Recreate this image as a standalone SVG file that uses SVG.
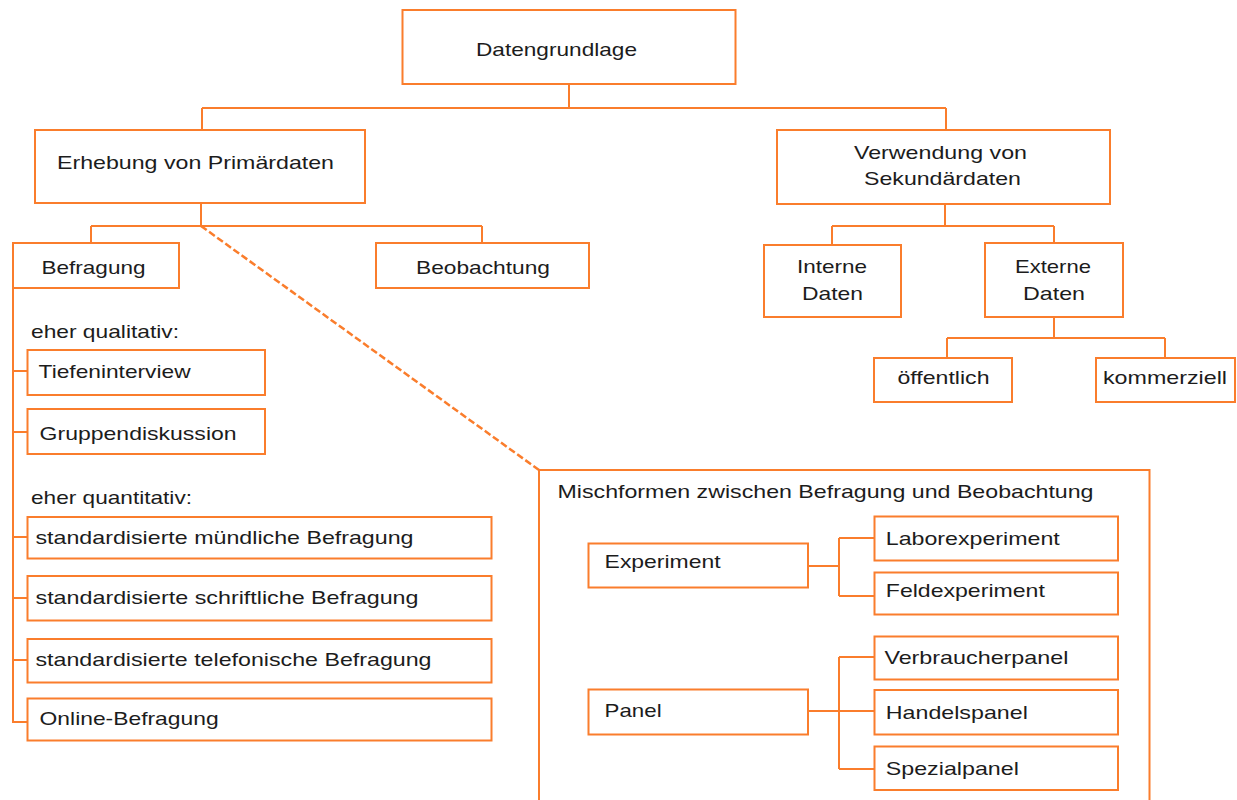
<svg xmlns="http://www.w3.org/2000/svg" width="1237" height="800" viewBox="0 0 1237 800">
<style>
.b{fill:#fff;stroke:#fa7d2c;stroke-width:2}
.f{fill:none;stroke:#fa7d2c;stroke-width:2}
.c{fill:none;stroke:#fa7d2c;stroke-width:2}
.d{fill:none;stroke:#fa7d2c;stroke-width:2.5;stroke-dasharray:7 3}
text{font-family:"Liberation Sans",Arial,sans-serif;font-size:19px;fill:#1c1c1c;}
</style>
<rect width="1237" height="800" fill="#fff"/>
<g id="n-mischformen"><rect class="f" x="539" y="470" width="610.5" height="350"/><text x="557.5" y="498" textLength="536" lengthAdjust="spacingAndGlyphs">Mischformen zwischen Befragung und Beobachtung</text></g>
<g id="connectors">
<path class="c" d="M569 84V108M202 108H946M202 108V130M946 108V130"/>
<path class="c" d="M201 203V226M91 226H482M91 226V243M482 226V243"/>
<path class="c" d="M13 288V722H27.5M13 371H27.5M13 432H27.5M13 537H27.5M13 598H27.5M13 660H27.5"/>
<path class="d" d="M201 226L539 470"/>
<path class="c" d="M945 204V226M832 226H1054M832 226V245M1054 226V243"/>
<path class="c" d="M1054 317V338M947 338H1165M947 338V358M1165 338V358"/>
<path class="c" d="M808 566H839M839 538V596M839 538H874M839 596H874"/>
<path class="c" d="M808 711H839M839 657V769M839 657H874M839 711H874M839 769H874"/>
</g>
<g id="n-datengrundlage"><rect class="b" x="402.5" y="10" width="333" height="74"/><text x="476" y="56" textLength="161" lengthAdjust="spacingAndGlyphs">Datengrundlage</text></g>
<g id="n-erhebung"><rect class="b" x="35" y="130" width="330" height="73"/><text x="57" y="169" textLength="277" lengthAdjust="spacingAndGlyphs">Erhebung von Primärdaten</text></g>
<g id="n-verwendung"><rect class="b" x="777" y="130" width="333" height="74"/><text x="854" y="159" textLength="173" lengthAdjust="spacingAndGlyphs">Verwendung von</text><text x="864" y="185" textLength="157" lengthAdjust="spacingAndGlyphs">Sekundärdaten</text></g>
<g id="n-befragung"><rect class="b" x="13" y="243" width="166" height="45"/><text x="41.5" y="274" textLength="104" lengthAdjust="spacingAndGlyphs">Befragung</text></g>
<g id="n-beobachtung"><rect class="b" x="376" y="243" width="213" height="45"/><text x="416" y="274" textLength="134" lengthAdjust="spacingAndGlyphs">Beobachtung</text></g>
<g id="n-interne"><rect class="b" x="764" y="245" width="137" height="72"/><text x="797" y="273" textLength="70" lengthAdjust="spacingAndGlyphs">Interne</text><text x="802" y="300" textLength="61" lengthAdjust="spacingAndGlyphs">Daten</text></g>
<g id="n-externe"><rect class="b" x="985" y="243" width="138" height="74"/><text x="1015" y="273" textLength="76" lengthAdjust="spacingAndGlyphs">Externe</text><text x="1023" y="300" textLength="62" lengthAdjust="spacingAndGlyphs">Daten</text></g>
<g id="n-oeffentlich"><rect class="b" x="874" y="358" width="138" height="44"/><text x="897.5" y="384" textLength="92" lengthAdjust="spacingAndGlyphs">öffentlich</text></g>
<g id="n-kommerziell"><rect class="b" x="1096" y="358" width="139" height="44"/><text x="1103" y="384" textLength="124" lengthAdjust="spacingAndGlyphs">kommerziell</text></g>
<g id="lbl-qualitativ"><text x="31" y="338" textLength="148" lengthAdjust="spacingAndGlyphs">eher qualitativ:</text></g>
<g id="n-tiefeninterview"><rect class="b" x="27.5" y="350" width="237.5" height="45"/><text x="38.6" y="378" textLength="152" lengthAdjust="spacingAndGlyphs">Tiefeninterview</text></g>
<g id="n-gruppendiskussion"><rect class="b" x="27.5" y="409" width="237.5" height="45"/><text x="39.6" y="440" textLength="197" lengthAdjust="spacingAndGlyphs">Gruppendiskussion</text></g>
<g id="lbl-quantitativ"><text x="31" y="504" textLength="161" lengthAdjust="spacingAndGlyphs">eher quantitativ:</text></g>
<g id="n-muendlich"><rect class="b" x="27.5" y="517" width="464" height="41.5"/><text x="35.5" y="544" textLength="378" lengthAdjust="spacingAndGlyphs">standardisierte mündliche Befragung</text></g>
<g id="n-schriftlich"><rect class="b" x="27.5" y="576" width="464" height="44.5"/><text x="35.5" y="604" textLength="383" lengthAdjust="spacingAndGlyphs">standardisierte schriftliche Befragung</text></g>
<g id="n-telefonisch"><rect class="b" x="27.5" y="639" width="464" height="43.5"/><text x="35.5" y="666" textLength="396" lengthAdjust="spacingAndGlyphs">standardisierte telefonische Befragung</text></g>
<g id="n-online"><rect class="b" x="27.5" y="698.5" width="464" height="42"/><text x="39.6" y="725" textLength="179" lengthAdjust="spacingAndGlyphs">Online-Befragung</text></g>
<g id="n-experiment"><rect class="b" x="588.5" y="543.5" width="219.5" height="44"/><text x="604.6" y="568" textLength="116" lengthAdjust="spacingAndGlyphs">Experiment</text></g>
<g id="n-laborexperiment"><rect class="b" x="874.5" y="516.5" width="243.5" height="44"/><text x="885.8" y="545" textLength="174" lengthAdjust="spacingAndGlyphs">Laborexperiment</text></g>
<g id="n-feldexperiment"><rect class="b" x="874.5" y="572.5" width="243.5" height="42"/><text x="885.8" y="597" textLength="159" lengthAdjust="spacingAndGlyphs">Feldexperiment</text></g>
<g id="n-panel"><rect class="b" x="588.5" y="689.5" width="219.5" height="45"/><text x="604.6" y="717" textLength="57" lengthAdjust="spacingAndGlyphs">Panel</text></g>
<g id="n-verbraucherpanel"><rect class="b" x="874.5" y="636.5" width="243.5" height="43"/><text x="884.4" y="664" textLength="184" lengthAdjust="spacingAndGlyphs">Verbraucherpanel</text></g>
<g id="n-handelspanel"><rect class="b" x="874.5" y="690" width="243.5" height="44.5"/><text x="885.8" y="719" textLength="142" lengthAdjust="spacingAndGlyphs">Handelspanel</text></g>
<g id="n-spezialpanel"><rect class="b" x="874.5" y="746.5" width="243.5" height="43.5"/><text x="885.8" y="775" textLength="133" lengthAdjust="spacingAndGlyphs">Spezialpanel</text></g>
</svg>
